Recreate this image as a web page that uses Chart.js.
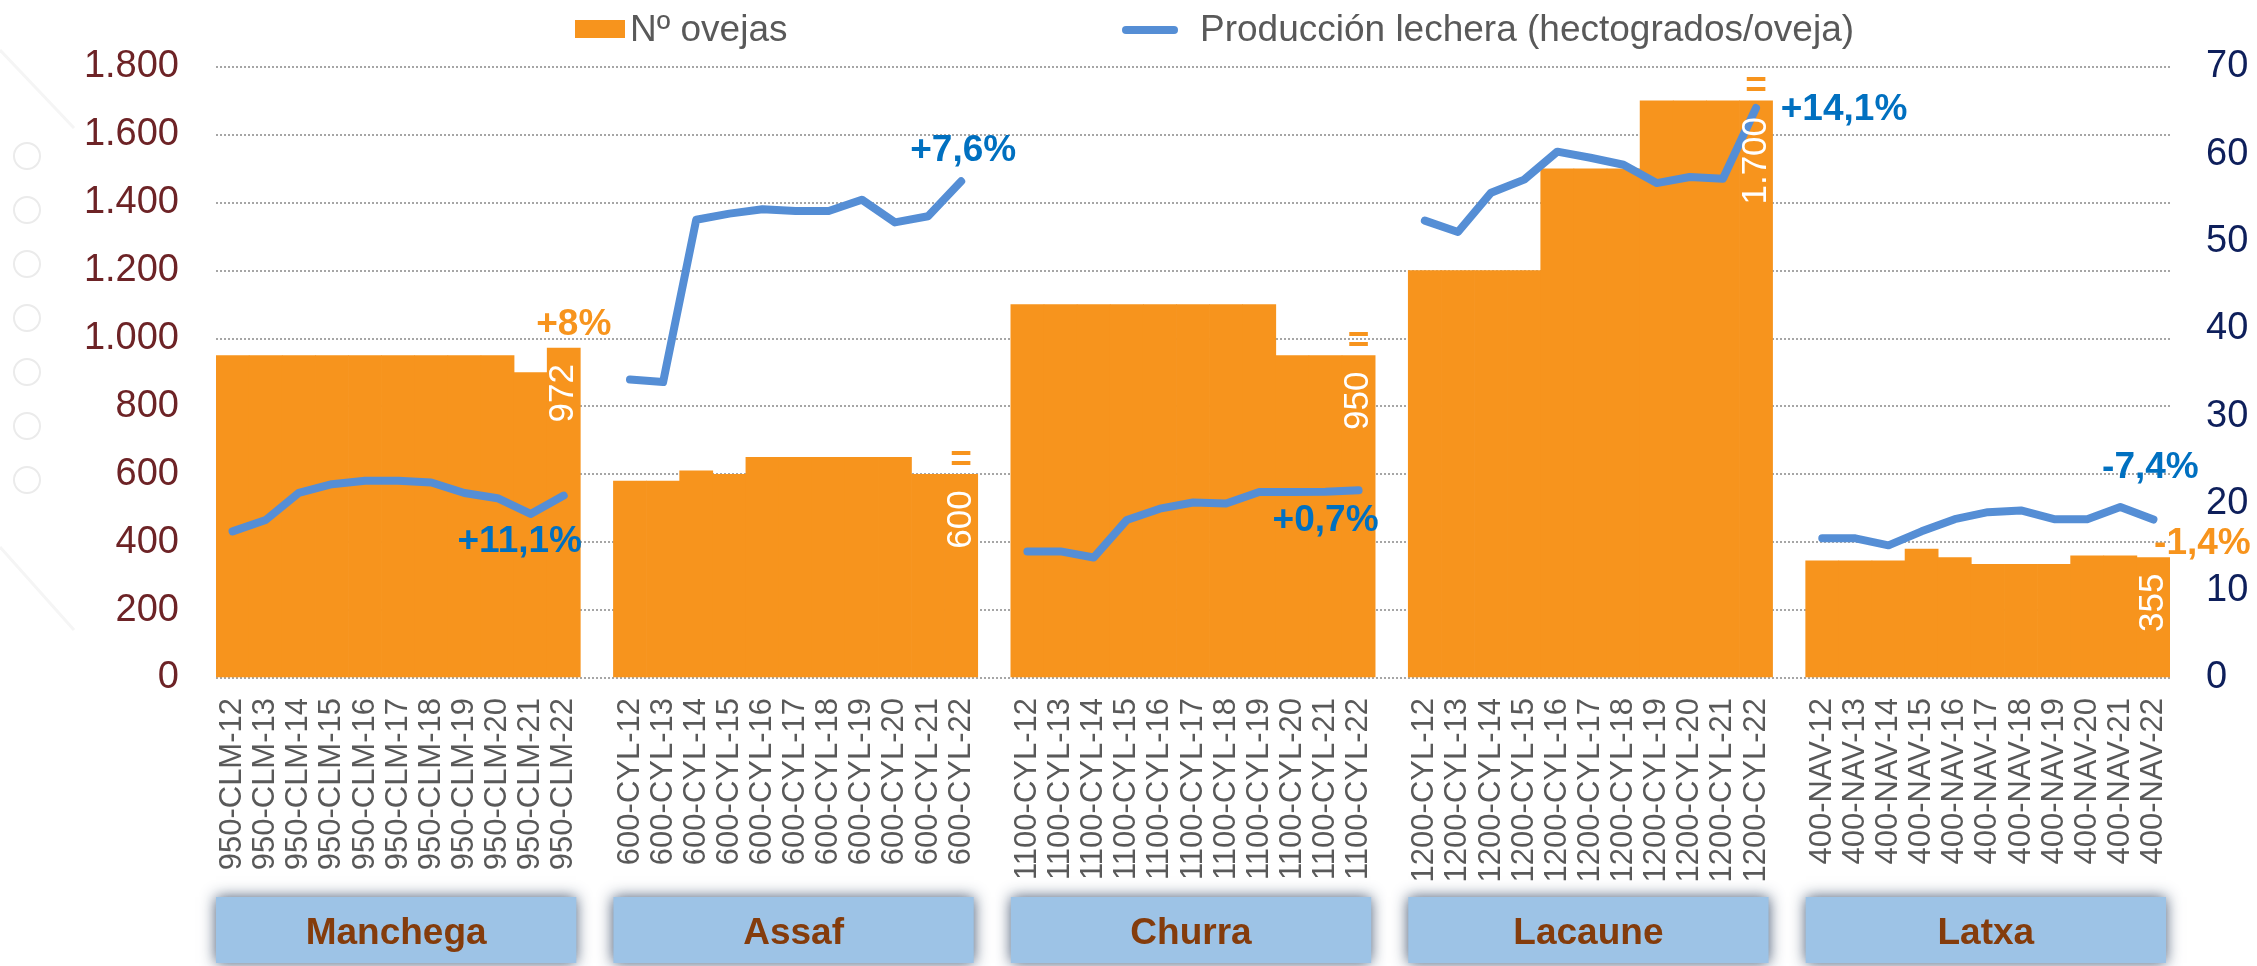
<!DOCTYPE html>
<html lang="es">
  <head>
    <title>Ovejas y producción lechera por raza</title>
    <meta charset="utf-8">
    <script src="https://cdn.jsdelivr.net/npm/chart.js@4.4.1/dist/chart.umd.min.js"></script>
    <style>
      html, body { margin: 0; padding: 0; background: #fff; }
      #caja { width: 2257px; height: 966px; position: relative; }
    </style>
  </head>
  <body>
    <div id="caja"><canvas id="grafico"></canvas></div>
    <script>
    // datos
    const razas = ['Manchega', 'Assaf', 'Churra', 'Lacaune', 'Latxa']
    const codigos = ['950-CLM', '600-CYL', '1100-CYL', '1200-CYL', '400-NAV']
    const anios = ['12', '13', '14', '15', '16', '17', '18', '19', '20', '21', '22']

    const ovejasManchega = [950, 950, 950, 950, 950, 950, 950, 950, 950, 900, 972]
    const ovejasAssaf    = [580, 580, 610, 600, 650, 650, 650, 650, 650, 600, 600]
    const ovejasChurra   = [1100, 1100, 1100, 1100, 1100, 1100, 1100, 1100, 950, 950, 950]
    const ovejasLacaune  = [1200, 1200, 1200, 1200, 1500, 1500, 1500, 1700, 1700, 1700, 1700]
    const ovejasLatxa    = [345, 345, 345, 380, 355, 335, 335, 335, 360, 360, 355]

    const lecheManchega = [16.8, 18.1, 21.2, 22.2, 22.6, 22.6, 22.4, 21.2, 20.6, 18.8, 20.9]
    const lecheAssaf    = [34.2, 33.9, 52.5, 53.2, 53.7, 53.5, 53.5, 54.8, 52.2, 52.9, 56.9]
    const lecheChurra   = [14.5, 14.5, 13.8, 18.1, 19.4, 20.1, 20.0, 21.3, 21.3, 21.35, 21.5]
    const lecheLacaune  = [52.4, 51.1, 55.6, 57.1, 60.3, 59.6, 58.8, 56.7, 57.4, 57.2, 65.3]
    const lecheLatxa    = [16.0, 16.0, 15.2, 16.8, 18.2, 19.0, 19.2, 18.2, 18.2, 19.6, 18.15]

    const notasOvejas = ['+8%', '=', '=', '=', '-1,4%']
    const notasLeche = ['+11,1%', '+7,6%', '+0,7%', '+14,1%', '-7,4%']

    const ticksOvejas = [0, 200, 400, 600, 800, 1000, 1200, 1400, 1600, 1800]
    const ticksLeche = [0, 10, 20, 30, 40, 50, 60, 70]

    const gruposOvejas = [ovejasManchega, ovejasAssaf, ovejasChurra, ovejasLacaune, ovejasLatxa]
    const gruposLeche = [lecheManchega, lecheAssaf, lecheChurra, lecheLacaune, lecheLatxa]

    // una categoria vacia entre razas
    let etiquetas = [], datosOvejas = [], datosLeche = []
    razas.forEach(function(r, g) {
      if (g > 0) { etiquetas.push(''); datosOvejas.push(null); datosLeche.push(null) }
      anios.forEach(function(a, i) {
        etiquetas.push(codigos[g] + '-' + a)
        datosOvejas.push(gruposOvejas[g][i])
        datosLeche.push(gruposLeche[g][i])
      })
    })

    const miles = v => String(v).replace(/\B(?=(\d{3})+(?!\d))/g, '.')

    const fuente = "'Liberation Sans', Arial, sans-serif"
    const naranja = '#F7941D'
    const azulLinea = '#558ED5'
    const azulTexto = '#0070C0'
    const gris = '#595959'

    // posicion de las notas respecto a la ultima barra / ultimo punto de cada raza
    const despOvejas = [[10, -23], [0, -14], [0, -14], [0, -14], [49, -14]]
    const despLeche = [[-44, 46], [2, -31], [-33, 30], [88, 2], [-3, -52]]

    const notas = {
      id: 'notas',
      beforeDraw(chart) {
        const ctx = chart.ctx
        ctx.save()
        ctx.strokeStyle = '#ebebeb'
        ctx.lineWidth = 2
        ;[156, 210, 264, 318, 372, 426, 480].forEach(function(y) {
          ctx.beginPath(); ctx.arc(27, y, 13, 0, Math.PI * 2); ctx.stroke()
        })
        ctx.strokeStyle = '#f5f5f5'
        ctx.lineWidth = 3
        ctx.beginPath(); ctx.moveTo(0, 50); ctx.lineTo(74, 128); ctx.stroke()
        ctx.beginPath(); ctx.moveTo(0, 547); ctx.lineTo(74, 630); ctx.stroke()
        ctx.restore()
      },
      afterDatasetsDraw(chart) {
        const ctx = chart.ctx
        const barras = chart.getDatasetMeta(0).data
        const puntos = chart.getDatasetMeta(1).data
        ctx.save()
        razas.forEach(function(r, g) {
          const idx = g * 12 + 10
          const b = barras[idx], p = puntos[idx]
          // valor de la ultima barra, girado
          ctx.save()
          ctx.translate(b.x, b.y + 16)
          ctx.rotate(-Math.PI / 2)
          ctx.fillStyle = '#fff'
          ctx.font = '35px ' + fuente
          ctx.textAlign = 'right'
          ctx.textBaseline = 'middle'
          ctx.fillText(miles(datosOvejas[idx]), 0, 0)
          ctx.restore()

          ctx.textAlign = 'center'
          ctx.textBaseline = 'middle'
          ctx.font = 'bold 37px ' + fuente
          ctx.fillStyle = naranja
          ctx.fillText(notasOvejas[g], b.x + despOvejas[g][0], b.y + despOvejas[g][1])
          ctx.fillStyle = azulTexto
          ctx.fillText(notasLeche[g], p.x + despLeche[g][0], p.y + despLeche[g][1])
        })
        ctx.restore()
      },
      afterDraw(chart) {
        const ctx = chart.ctx
        const x = chart.scales.x
        const medio = (x.getPixelForValue(1) - x.getPixelForValue(0)) / 2
        ctx.save()
        // cajas de las razas
        razas.forEach(function(r, g) {
          const izq = x.getPixelForValue(g * 12) - medio
          const der = x.getPixelForValue(g * 12 + 10) + medio - 4
          ctx.save()
          ctx.shadowColor = 'rgba(50, 70, 100, 0.9)'
          ctx.shadowBlur = 14
          ctx.fillStyle = '#9DC3E6'
          ctx.fillRect(izq, 897, der - izq, 66)
          ctx.restore()
          ctx.fillStyle = '#843C0C'
          ctx.font = 'bold 37px ' + fuente
          ctx.textAlign = 'center'
          ctx.textBaseline = 'alphabetic'
          ctx.fillText(r, (izq + der) / 2, 944)
        })
        // leyenda
        const ds = chart.data.datasets
        ctx.fillStyle = ds[0].backgroundColor
        ctx.fillRect(575, 20, 50, 18)
        ctx.strokeStyle = ds[1].borderColor
        ctx.lineWidth = 8
        ctx.lineCap = 'round'
        ctx.beginPath(); ctx.moveTo(1126, 30); ctx.lineTo(1174, 30); ctx.stroke()
        ctx.fillStyle = gris
        ctx.font = '37px ' + fuente
        ctx.textAlign = 'left'
        ctx.textBaseline = 'alphabetic'
        ctx.fillText(ds[0].label, 630, 41)
        ctx.fillText(ds[1].label, 1200, 41)
        ctx.restore()
      }
    }

    Chart.defaults.font.family = fuente
    const ctx = document.getElementById('grafico').getContext('2d')
    window.grafico = new Chart(ctx, {
      data: {
        labels: etiquetas,
        datasets: [{
          type: 'bar',
          label: 'Nº ovejas',
          data: datosOvejas,
          backgroundColor: naranja,
          yAxisID: 'y',
          barPercentage: 1,
          categoryPercentage: 1,
          order: 2
        }, {
          type: 'line',
          label: 'Producción lechera (hectogrados/oveja)',
          data: datosLeche,
          borderColor: azulLinea,
          borderWidth: 8,
          borderJoinStyle: 'round',
          borderCapStyle: 'round',
          pointRadius: 0,
          tension: 0,
          spanGaps: false,
          yAxisID: 'y1',
          order: 1
        }]
      },
      options: {
        responsive: true,
        maintainAspectRatio: false,
        animation: false,
        layout: { padding: { top: 67, left: 0, right: 0, bottom: 0 } },
        plugins: { legend: { display: false }, tooltip: { enabled: false } },
        scales: {
          x: {
            grid: { display: false, drawTicks: false },
            border: { display: false },
            ticks: { autoSkip: false, maxRotation: 90, minRotation: 90, color: gris, font: { size: 31 }, padding: 20 },
            afterFit(s) { s.height = 288 }
          },
          y: {
            position: 'left',
            min: 0,
            max: 1800,
            afterBuildTicks(s) { s.ticks = ticksOvejas.map(v => ({ value: v })) },
            ticks: { color: '#6D2326', font: { size: 38 }, padding: 37, callback: v => miles(v) },
            grid: { color: '#A6A6A6', lineWidth: 2, drawTicks: false },
            border: { display: false, dash: [2, 2] },
            afterFit(s) { s.width = 216 }
          },
          y1: {
            position: 'right',
            min: 0,
            max: 70,
            afterBuildTicks(s) { s.ticks = ticksLeche.map(v => ({ value: v })) },
            ticks: { color: '#0E1F5B', font: { size: 38 }, padding: 36 },
            grid: { drawOnChartArea: false, drawTicks: false },
            border: { display: false },
            afterFit(s) { s.width = 87 }
          }
        }
      },
      plugins: [notas]
    })
    </script>
  </body>
</html>
